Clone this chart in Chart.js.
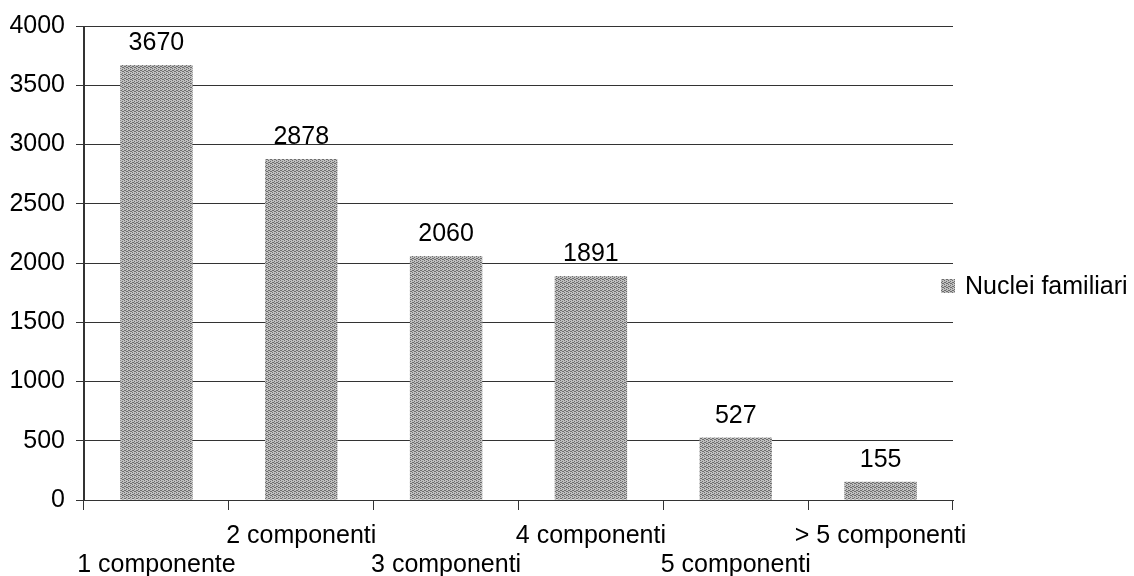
<!DOCTYPE html>
<html>
<head>
<meta charset="utf-8">
<script src="https://cdn.jsdelivr.net/npm/chart.js@4/dist/chart.umd.min.js"></script>
<style>
  html, body { margin: 0; padding: 0; background: #fff; }
  #wrap { width: 1134px; height: 576px; }
</style>
</head>
<body>
<div id="wrap"><canvas id="barChart"></canvas></div>
<script>
// data
const categories = ["1 componente", "2 componenti", "3 componenti", "4 componenti", "5 componenti", "> 5 componenti"];
const values = [3670, 2878, 2060, 1891, 527, 155];
const yTicks = [0, 500, 1000, 1500, 2000, 2500, 3000, 3500, 4000];
const seriesName = "Nuclei familiari";

const FONT = "'Liberation Sans', Arial, sans-serif";
Chart.defaults.font.family = FONT;
Chart.defaults.font.size = 25;
Chart.defaults.color = "#000";

// grey halftone-ish fill, like the scanned original
function makePattern() {
  const c = document.createElement("canvas");
  c.width = 4;
  c.height = 4;
  const g = c.getContext("2d");
  g.fillStyle = "#c0c0c0";
  g.fillRect(0, 0, 4, 4);
  g.fillStyle = "#6e6e6e";
  [[0, 0], [2, 1], [1, 2], [3, 3], [2, 3], [0, 2]].forEach(p => g.fillRect(p[0], p[1], 1, 1));
  return g.createPattern(c, "repeat");
}
const barFill = makePattern();

// ! value labels above the bars
const valueLabels = {
  id: "valueLabels",
  afterDatasetsDraw(chart) {
    const ctx = chart.ctx;
    const meta = chart.getDatasetMeta(0);
    ctx.save();
    ctx.font = "25px " + FONT;
    ctx.fillStyle = "#000";
    ctx.textAlign = "center";
    ctx.textBaseline = "bottom";
    meta.data.forEach((bar, i) => {
      ctx.fillText(String(values[i]), bar.x, bar.y - 9);
    });
    ctx.restore();
  },
};

// ! legend on the right, sitting on the plot border
const sideLegend = {
  id: "sideLegend",
  afterDraw(chart) {
    const ctx = chart.ctx;
    const area = chart.chartArea;
    const cy = chart.height / 2;
    ctx.save();
    ctx.fillStyle = barFill;
    ctx.fillRect(area.right - 12, cy - 9, 14, 14);
    ctx.font = "25px " + FONT;
    ctx.fillStyle = "#000";
    ctx.textAlign = "left";
    ctx.textBaseline = "middle";
    ctx.fillText(seriesName, area.right + 12, cy - 1);
    ctx.restore();
  },
};

new Chart(document.getElementById("barChart"), {
  type: "bar",
  data: {
    labels: categories,
    datasets: [
      {
        label: seriesName,
        data: values,
        backgroundColor: barFill,
        borderWidth: 0,
        barPercentage: 0.5,
        categoryPercentage: 1,
      },
    ],
  },
  options: {
    responsive: true,
    maintainAspectRatio: false,
    animation: false,
    layout: { padding: { top: 14, right: 181, left: 0, bottom: 0 } },
    plugins: {
      legend: { display: false },
      tooltip: { enabled: false },
    },
    scales: {
      x: {
        grid: {
          offset: true,
          color: (c) => (c.index === 0 || c.index === categories.length ? "#333" : "rgba(0,0,0,0)"),
          tickColor: "#333",
          tickLength: 10,
          lineWidth: 1,
        },
        border: { display: true, color: "#333" },
        ticks: {
          maxRotation: 0,
          autoSkip: false,
          padding: 12,
          font: { size: 25, lineHeight: 1.15 },
          callback: (v, i) => (i % 2 === 0 ? ["", categories[i]] : [categories[i]]),
        },
        afterFit: (s) => { s.height = 76; },
      },
      y: {
        min: 0,
        max: 4000,
        afterBuildTicks: (s) => { s.ticks = yTicks.map((v) => ({ value: v })); },
        grid: { color: "#333", tickLength: 8, lineWidth: 1 },
        border: { display: true, color: "#333" },
        ticks: { padding: 11, callback: (v) => String(v) },
        afterFit: (s) => { s.width = 84; },
      },
    },
  },
  plugins: [valueLabels, sideLegend],
});
</script>
</body>
</html>
